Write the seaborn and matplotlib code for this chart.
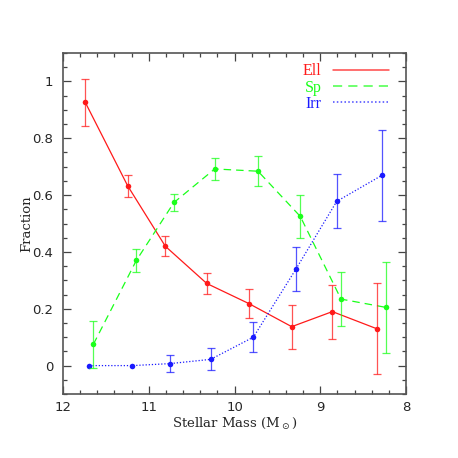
import numpy as np
import pandas as pd
import matplotlib
matplotlib.use("Agg")
import matplotlib.pyplot as plt
import seaborn as sns
from matplotlib.ticker import MultipleLocator, FixedLocator
from matplotlib.lines import Line2D

# Data
ell_mass = [11.74, 11.245, 10.807, 10.324, 9.831, 9.333, 8.859, 8.335]
ell_frac = [0.926, 0.632, 0.420, 0.289, 0.218, 0.137, 0.190, 0.129]
ell_err = [0.082, 0.039, 0.035, 0.038, 0.052, 0.077, 0.095, 0.160]

sp_mass = [11.646, 11.145, 10.706, 10.231, 9.726, 9.233, 8.758, 8.237]
sp_frac = [0.075, 0.370, 0.574, 0.692, 0.684, 0.525, 0.234, 0.205]
sp_err = [0.082, 0.039, 0.030, 0.038, 0.053, 0.077, 0.095, 0.160]

irr_mass = [11.693, 11.19, 10.752, 10.278, 9.78, 9.283, 8.808, 8.284]
irr_frac = [0.0, 0.0, 0.007, 0.022, 0.100, 0.340, 0.578, 0.669]
irr_err = [0.0, 0.0, 0.030, 0.039, 0.052, 0.077, 0.095, 0.160]

labels = ["Ell", "Sp", "Irr"]
colors = {"Ell": "#ff1a1a", "Sp": "#1aff1a", "Irr": "#1a1aff"}
dashes = {"Ell": "", "Sp": (6, 4), "Irr": (1, 1.5)}

df = pd.concat([
    pd.DataFrame({"mass": ell_mass, "frac": ell_frac, "err": ell_err, "type": "Ell"}),
    pd.DataFrame({"mass": sp_mass, "frac": sp_frac, "err": sp_err, "type": "Sp"}),
    pd.DataFrame({"mass": irr_mass, "frac": irr_frac, "err": irr_err, "type": "Irr"}),
], ignore_index=True)

sns.set_style("ticks")
plt.rcParams["font.family"] = ["DejaVu Sans"]

fig = plt.figure(figsize=(4.58, 4.58), dpi=100)
ax = fig.add_axes([0.1376, 0.1397, 0.7489, 0.7446])

sns.lineplot(data=df, x="mass", y="frac", hue="type", style="type",
             palette=colors, dashes=dashes, hue_order=labels, style_order=labels,
             sort=False, estimator=None, linewidth=0.9, legend=False, ax=ax,
             marker="o", markersize=4, markeredgewidth=0)

for t in labels:
    sub = df[df["type"] == t]
    sub = sub[sub["err"] > 0]
    ax.errorbar(sub["mass"], sub["frac"], yerr=sub["err"], fmt="none",
                ecolor=colors[t], elinewidth=0.9, capsize=2.8, capthick=0.9,
                alpha=0.75)

ax.set_xlim(12, 8)
ax.set_ylim(-0.1, 1.1)
ax.xaxis.set_major_locator(FixedLocator([12, 11, 10, 9, 8]))
ax.xaxis.set_minor_locator(MultipleLocator(0.2))
ax.yaxis.set_major_locator(FixedLocator([0, 0.2, 0.4, 0.6, 0.8, 1.0]))
ax.yaxis.set_minor_locator(MultipleLocator(0.05))
ax.set_yticklabels(["0", "0.2", "0.4", "0.6", "0.8", "1"])
ax.set_xticklabels(["12", "11", "10", "9", "8"])
ax.tick_params(which="both", direction="in", top=True, right=True,
               color="#444444", width=0.9, labelsize=9.5)
ax.tick_params(which="major", length=6)
ax.tick_params(axis="y", which="major", pad=7)
ax.tick_params(axis="x", which="major", pad=5)
ax.tick_params(which="minor", length=3)
for s in ax.spines.values():
    s.set_color("#555555")
    s.set_linewidth(1.2)

ax.set_xlabel(r"Stellar Mass (M$_\odot$)", family="DejaVu Serif", fontsize=9.5, labelpad=1)
ax.set_ylabel("Fraction", family="DejaVu Serif", fontsize=9.5, labelpad=-1)

handles = [Line2D([], [], color=colors["Ell"], linewidth=1.1, linestyle="-", alpha=0.8),
           Line2D([], [], color=colors["Sp"], linewidth=1.1, dashes=dashes["Sp"], alpha=0.8),
           Line2D([], [], color=colors["Irr"], linewidth=1.1, dashes=dashes["Irr"], alpha=0.8)]
leg = ax.legend(handles, labels, loc="upper right", markerfirst=False, frameon=False,
                handlelength=3.5, handletextpad=0.7, labelspacing=0.02,
                bbox_to_anchor=(0.992, 1.012),
                prop={"family": "Liberation Serif", "size": 11.5})
for txt, t in zip(leg.get_texts(), labels):
    txt.set_color(colors[t])

fig.savefig("out.png", dpi=100)
